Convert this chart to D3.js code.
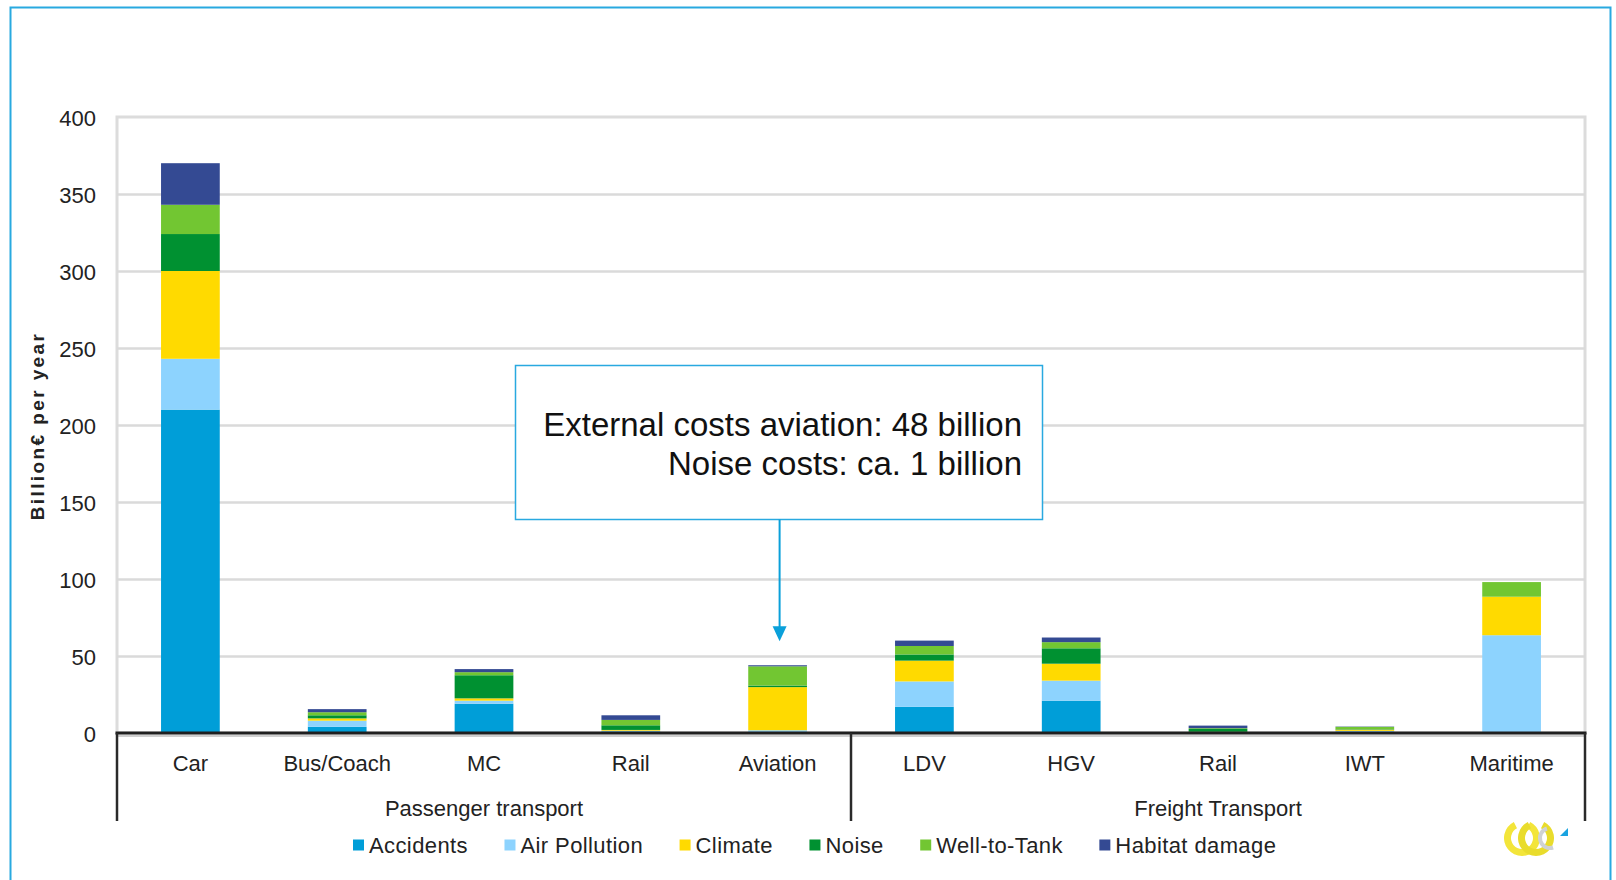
<!DOCTYPE html>
<html>
<head>
<meta charset="utf-8">
<script src="https://cdn.jsdelivr.net/npm/d3@7"></script>
<style>
  html, body { margin: 0; padding: 0; background: #ffffff; }
  svg { display: block; }
  text { font-family: "Liberation Sans", Arial, sans-serif; }
</style>
</head>
<body>
<svg id="chart" width="1616" height="880"></svg>
<script>
// ---------------- data ----------------
const categories = ["Car", "Bus/Coach", "MC", "Rail", "Aviation", "LDV", "HGV", "Rail", "IWT", "Maritime"];
const groupNames = ["Passenger transport", "Freight Transport"];
const groupOfCategory = [0, 0, 0, 0, 0, 1, 1, 1, 1, 1];
const seriesNames = ["Accidents", "Air Pollution", "Climate", "Noise", "Well-to-Tank", "Habitat damage"];
const accidents    = [210, 4,   19,  1,   0.3, 17,   21, 0.3, 0.2, 0];
const airPollution = [33,  4,   2,   0.5, 1.5, 16.5, 13, 0.3, 1.2, 63.5];
const climate      = [57,  1.5, 1.5, 0.5, 28,  13.5, 11, 0.2, 0.8, 25];
const noise        = [24,  2,   15,  3,   1,   4,    10, 1.8, 0.3, 0];
const wellToTank   = [19,  2,   2,   3.5, 12.5, 5.5, 4,  0.5, 1.5, 9.5];
const habitat      = [27,  2,   2,   3,   0.7, 3.5,  3,  1.7, 0.2, 0];
const yTicks = [0, 50, 100, 150, 200, 250, 300, 350, 400];
const yTitle = "Billion€ per year";
const noteLines = ["External costs aviation: 48 billion", "Noise costs: ca. 1 billion"];
const noteCategory = "Aviation";

// ---------------- style ----------------
const colors = ["#009ed8", "#8dd3fe", "#ffda00", "#009131", "#72c632", "#344a93"];
const frameBlue = "#29a9e0";
const gridGrey = "#dadada";
const textColor = "#222";

// ---------------- layout ----------------
const svg = d3.select("#chart");
const M = { left: 117, right: 1585, top: 117, bottom: 733 };

const seriesArrays = [accidents, airPollution, climate, noise, wellToTank, habitat];
const rows = categories.map((c, i) => {
  const r = { idx: i, name: c };
  seriesNames.forEach((s, k) => r[s] = seriesArrays[k][i]);
  return r;
});

const x = d3.scaleBand()
  .domain(d3.range(categories.length))
  .range([M.left, M.right])
  .paddingInner(0.6)
  .paddingOuter(0.3);

const y = d3.scaleLinear().domain([0, 400]).range([M.bottom, M.top]);

const color = d3.scaleOrdinal().domain(seriesNames).range(colors);

// outer frame
svg.append("rect")
  .attr("x", 10.5).attr("y", 7.5)
  .attr("width", 1600).attr("height", 900)
  .attr("fill", "none").attr("stroke", frameBlue).attr("stroke-width", 2);

// plot border (light grey)
svg.append("rect")
  .attr("x", M.left).attr("y", M.top)
  .attr("width", M.right - M.left).attr("height", M.bottom - M.top)
  .attr("fill", "none").attr("stroke", "#dcdcdc").attr("stroke-width", 3);

// gridlines
svg.append("g")
  .attr("transform", `translate(${M.left},0)`)
  .call(d3.axisLeft(y).tickValues(yTicks.filter(t => t > 0 && t < 400)).tickSize(-(M.right - M.left)).tickFormat(""))
  .call(g => g.select(".domain").remove())
  .call(g => g.selectAll("line").attr("stroke", gridGrey).attr("stroke-width", 2.5));

// y tick labels
svg.append("g")
  .attr("transform", `translate(${M.left},0)`)
  .call(d3.axisLeft(y).tickValues(yTicks).tickSize(0).tickPadding(21))
  .call(g => g.select(".domain").remove())
  .call(g => g.selectAll("text")
    .attr("font-family", "Liberation Sans, Arial, sans-serif")
    .attr("font-size", 22).attr("fill", textColor).attr("dy", "0.38em"));

// y title
svg.append("text")
  .attr("transform", `translate(44,426) rotate(-90)`)
  .attr("text-anchor", "middle")
  .attr("font-size", 19).attr("font-weight", "bold")
  .attr("letter-spacing", 2.4)
  .attr("fill", textColor)
  .text(yTitle);

// stacked bars
const stacked = d3.stack().keys(seriesNames)(rows);
svg.append("g").selectAll("g")
  .data(stacked)
  .join("g")
  .attr("fill", d => color(d.key))
  .selectAll("rect")
  .data(d => d)
  .join("rect")
  .attr("x", d => x(d.data.idx))
  .attr("width", x.bandwidth())
  .attr("y", d => y(d[1]))
  .attr("height", d => Math.max(0, y(d[0]) - y(d[1])));

// zero baseline (black) and grey shadow
svg.append("line")
  .attr("x1", M.left).attr("x2", M.right)
  .attr("y1", y(0) + 3).attr("y2", y(0) + 3)
  .attr("stroke", "#cfcfcf").attr("stroke-width", 2);
svg.append("line")
  .attr("x1", M.left - 1.5).attr("x2", M.right + 1.5)
  .attr("y1", y(0)).attr("y2", y(0))
  .attr("stroke", "#1f1f1f").attr("stroke-width", 3);

// category labels
svg.append("g")
  .attr("transform", `translate(0,${M.bottom})`)
  .call(d3.axisBottom(x).tickSize(0).tickPadding(22).tickFormat(i => categories[i]))
  .call(g => g.select(".domain").remove())
  .call(g => g.selectAll("text")
    .attr("font-family", "Liberation Sans, Arial, sans-serif")
    .attr("font-size", 22).attr("fill", textColor));

// group frame lines and labels
const groupExtents = groupNames.map((gname, gi) => {
  const idx = d3.range(categories.length).filter(i => groupOfCategory[i] === gi);
  const step = x.step();
  const start = gi === 0 ? M.left : x(idx[0]) - step * x.paddingInner() / 2;
  const end = gi === groupNames.length - 1 ? M.right : x(idx[idx.length - 1]) + x.bandwidth() + step * x.paddingInner() / 2;
  return { name: gname, start, end };
});
const boundaries = [M.left].concat(groupExtents.map(g => g.end));
svg.append("g").selectAll("line")
  .data(boundaries)
  .join("line")
  .attr("x1", d => d).attr("x2", d => d)
  .attr("y1", M.bottom).attr("y2", 821)
  .attr("stroke", "#2a2a2a").attr("stroke-width", 2.5);

svg.append("g").selectAll("text")
  .data(groupExtents)
  .join("text")
  .attr("x", d => (d.start + d.end) / 2)
  .attr("y", 816)
  .attr("text-anchor", "middle")
  .attr("font-size", 22).attr("fill", textColor)
  .text(d => d.name);

// legend
const legend = svg.append("g").attr("transform", "translate(353,0)");
let lx = 0;
seriesNames.forEach((s, k) => {
  const item = legend.append("g").attr("transform", `translate(${lx},0)`);
  item.append("rect")
    .attr("x", 0).attr("y", 839.5).attr("width", 11).attr("height", 11)
    .attr("fill", color(s));
  const t = item.append("text")
    .attr("x", 16).attr("y", 853)
    .attr("font-size", 22).attr("letter-spacing", 0.4).attr("fill", textColor)
    .text(s);
  lx += 16 + t.node().getComputedTextLength() + 36.5;
});

// annotation box
const noteX = x(categories.indexOf(noteCategory)) + x.bandwidth() / 2 + 2;
const aviationTotal = d3.sum(seriesArrays, a => a[categories.indexOf(noteCategory)]);
svg.append("rect")
  .attr("x", 515.5).attr("y", 365.5)
  .attr("width", 527).attr("height", 154)
  .attr("fill", "#ffffff").attr("stroke", frameBlue).attr("stroke-width", 1.5);
svg.append("g").selectAll("text")
  .data(noteLines)
  .join("text")
  .attr("x", 1022)
  .attr("y", (d, i) => 436 + i * 39)
  .attr("text-anchor", "end")
  .attr("font-size", 33).attr("fill", "#111")
  .text(d => d);

// arrow
const arrowColor = "#0aa0da";
const tipY = y(aviationTotal) - 24;
svg.append("line")
  .attr("x1", noteX).attr("x2", noteX)
  .attr("y1", 519.5).attr("y2", tipY - 12)
  .attr("stroke", arrowColor).attr("stroke-width", 2);
svg.append("path")
  .attr("d", `M${noteX - 7},${tipY - 15} L${noteX + 7},${tipY - 15} L${noteX},${tipY} Z`)
  .attr("fill", arrowColor);

// logo (simple)
const logo = svg.append("g").attr("transform", "translate(1540,838)");
const arc = d3.arc();
logo.append("path")
  .attr("d", arc({ innerRadius: 11, outerRadius: 18, startAngle: Math.PI * 0.15, endAngle: Math.PI * 1.85 }))
  .attr("transform", "translate(-18,0)")
  .attr("fill", "#f3e53a");
logo.append("path")
  .attr("d", arc({ innerRadius: 11, outerRadius: 18, startAngle: Math.PI * 0.15, endAngle: Math.PI * 1.85 }))
  .attr("transform", "translate(-4,0)")
  .attr("fill", "#e9dc2c");
logo.append("path")
  .attr("d", arc({ innerRadius: 8, outerRadius: 12, startAngle: Math.PI * 0.9, endAngle: Math.PI * 1.9 }))
  .attr("transform", "translate(10,0)")
  .attr("fill", "#cfd2d4");
logo.append("path")
  .attr("d", "M20,-2 L28,-10 L28,-2 Z")
  .attr("fill", "#1aa3e0");
</script>
</body>
</html>
